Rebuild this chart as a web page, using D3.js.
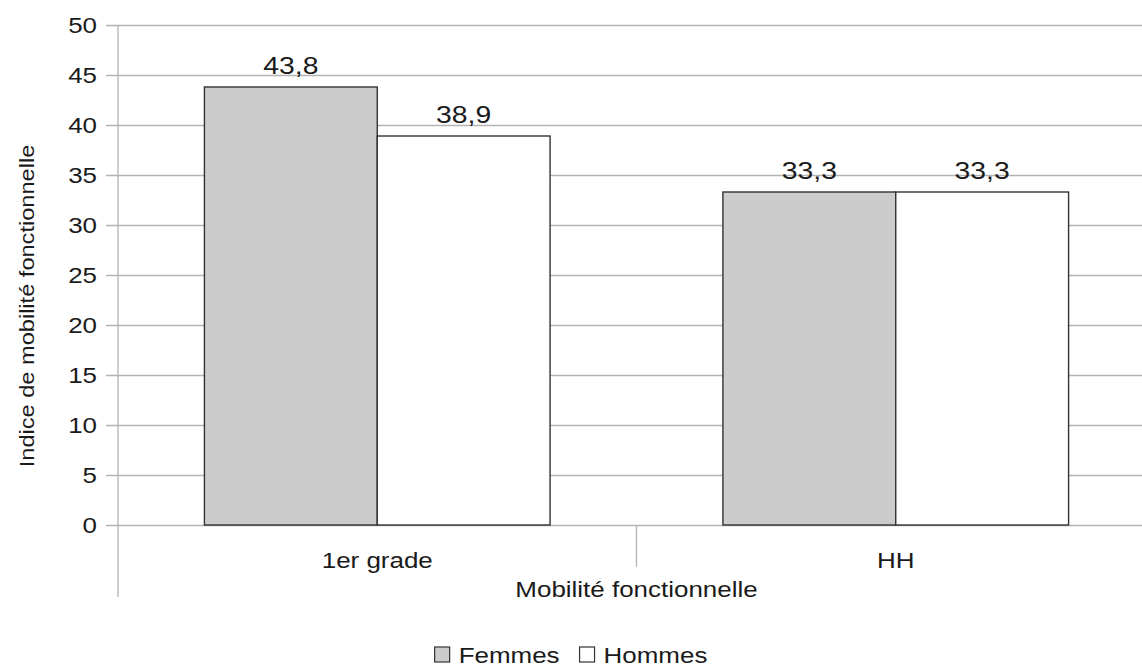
<!DOCTYPE html>
<html>
<head>
<meta charset="utf-8">
<script src="https://cdn.jsdelivr.net/npm/d3@7"></script>
<style>
  html, body { margin: 0; padding: 0; background: #fff; }
  svg { display: block; font-family: "Liberation Sans", Arial, sans-serif; }
</style>
</head>
<body>
<svg id="chart"></svg>
<script>
// data
const categories = ['1er grade', 'HH'];
const series     = ['Femmes', 'Hommes'];
const femmes     = [43.8, 33.3];
const hommes     = [38.9, 33.3];
const yTicks     = [0, 5, 10, 15, 20, 25, 30, 35, 40, 45, 50];

const COLORS = { Femmes: '#cccccc', Hommes: '#ffffff' };
const W = 1142, H = 667;
const SX = 1.18;               // glyphs in the reference are a bit wide
const TXT = '#1a1a1a';
const GRID = '#b3b3b3';

const M = { left: 118, top: 25, right: 1155, bottom: 525 };

const svg = d3.select('#chart').attr('width', W).attr('height', H);

const x = d3.scaleBand().domain(categories).range([M.left, M.right]);
const y = d3.scaleLinear().domain([0, 50]).range([M.bottom, M.top]);

const fmt = v => String(v).replace('.', ',');

// ── y axis + grid ─────────────────────────────────────────────
const yAxis = svg.append('g')
    .attr('transform', `translate(${M.left},0)`)
    .call(d3.axisLeft(y).tickValues(yTicks).tickSizeInner(12).tickSizeOuter(0).tickPadding(9));

yAxis.select('.domain').remove();
yAxis.selectAll('.tick line')
    .attr('x1', M.right - M.left)
    .attr('stroke', GRID).attr('stroke-width', 1.3);
yAxis.selectAll('.tick text')
    .attr('x', null).attr('dy', '0.36em')
    .attr('transform', `translate(-21,0) scale(${SX},1)`)
    .attr('fill', TXT).attr('font-size', '22px')
    .attr('font-family', '"Liberation Sans", Arial, sans-serif');

// vertical axis line, runs down past the category labels
svg.append('line')
    .attr('x1', M.left).attr('x2', M.left)
    .attr('y1', M.top).attr('y2', 597)
    .attr('stroke', GRID).attr('stroke-width', 1.3);

// category separators
categories.slice(1).forEach(c => {
    svg.append('line')
        .attr('x1', x(c)).attr('x2', x(c))
        .attr('y1', M.bottom).attr('y2', 567)
        .attr('stroke', GRID).attr('stroke-width', 1.3);
});

// ── bars ──────────────────────────────────────────────────────
const groupW = x.bandwidth() * 2 / 3;
const xs = d3.scaleBand().domain(series).range([0, groupW]);
const offset = (x.bandwidth() - groupW) / 2;

const rows = categories.map((c, i) => ({ cat: c, vals: [
    { s: 'Femmes', v: femmes[i] },
    { s: 'Hommes', v: hommes[i] },
]}));

const g = svg.append('g').selectAll('g').data(rows).join('g')
    .attr('transform', d => `translate(${x(d.cat) + offset},0)`);

g.selectAll('rect').data(d => d.vals).join('rect')
    .attr('x', d => xs(d.s))
    .attr('y', d => y(d.v))
    .attr('width', xs.bandwidth())
    .attr('height', d => y(0) - y(d.v))
    .attr('fill', d => COLORS[d.s])
    .attr('stroke', '#333333').attr('stroke-width', 1.4);

g.selectAll('text').data(d => d.vals).join('text')
    .attr('transform', d => `translate(${xs(d.s) + xs.bandwidth() / 2},${y(d.v) - 13}) scale(${SX},1)`)
    .attr('text-anchor', 'middle')
    .attr('fill', TXT).attr('font-size', '24px')
    .text(d => fmt(d.v));

// ── category labels + titles ──────────────────────────────────
svg.append('g').selectAll('text').data(categories).join('text')
    .attr('transform', d => `translate(${x(d) + x.bandwidth() / 2},568) scale(${SX},1)`)
    .attr('text-anchor', 'middle')
    .attr('fill', TXT).attr('font-size', '22px')
    .text(d => d);

svg.append('text')
    .attr('transform', `translate(${(M.left + M.right) / 2},597) scale(${SX},1)`)
    .attr('text-anchor', 'middle')
    .attr('fill', TXT).attr('font-size', '22px')
    .text('Mobilité fonctionnelle');

svg.append('text')
    .attr('transform', `translate(34,306) rotate(-90) scale(${SX},1)`)
    .attr('text-anchor', 'middle')
    .attr('fill', TXT).attr('font-size', '20px')
    .text('Indice de mobilité fonctionnelle');

// ── legend, centred on the page ───────────────────────────────
const leg = svg.append('g');
let cx = 0;
series.forEach(s => {
    const item = leg.append('g').attr('transform', `translate(${cx},0)`);
    item.append('rect')
        .attr('x', 0).attr('y', -16).attr('width', 15).attr('height', 15)
        .attr('fill', COLORS[s]).attr('stroke', '#333333').attr('stroke-width', 1.2);
    const t = item.append('text')
        .attr('transform', `translate(24,0) scale(${SX},1)`)
        .attr('fill', TXT).attr('font-size', '22px')
        .text(s);
    cx += 24 + t.node().getComputedTextLength() * SX + 20;
});
const legW = cx - 20;
leg.attr('transform', `translate(${(W - legW) / 2},663)`);
</script>
</body>
</html>
